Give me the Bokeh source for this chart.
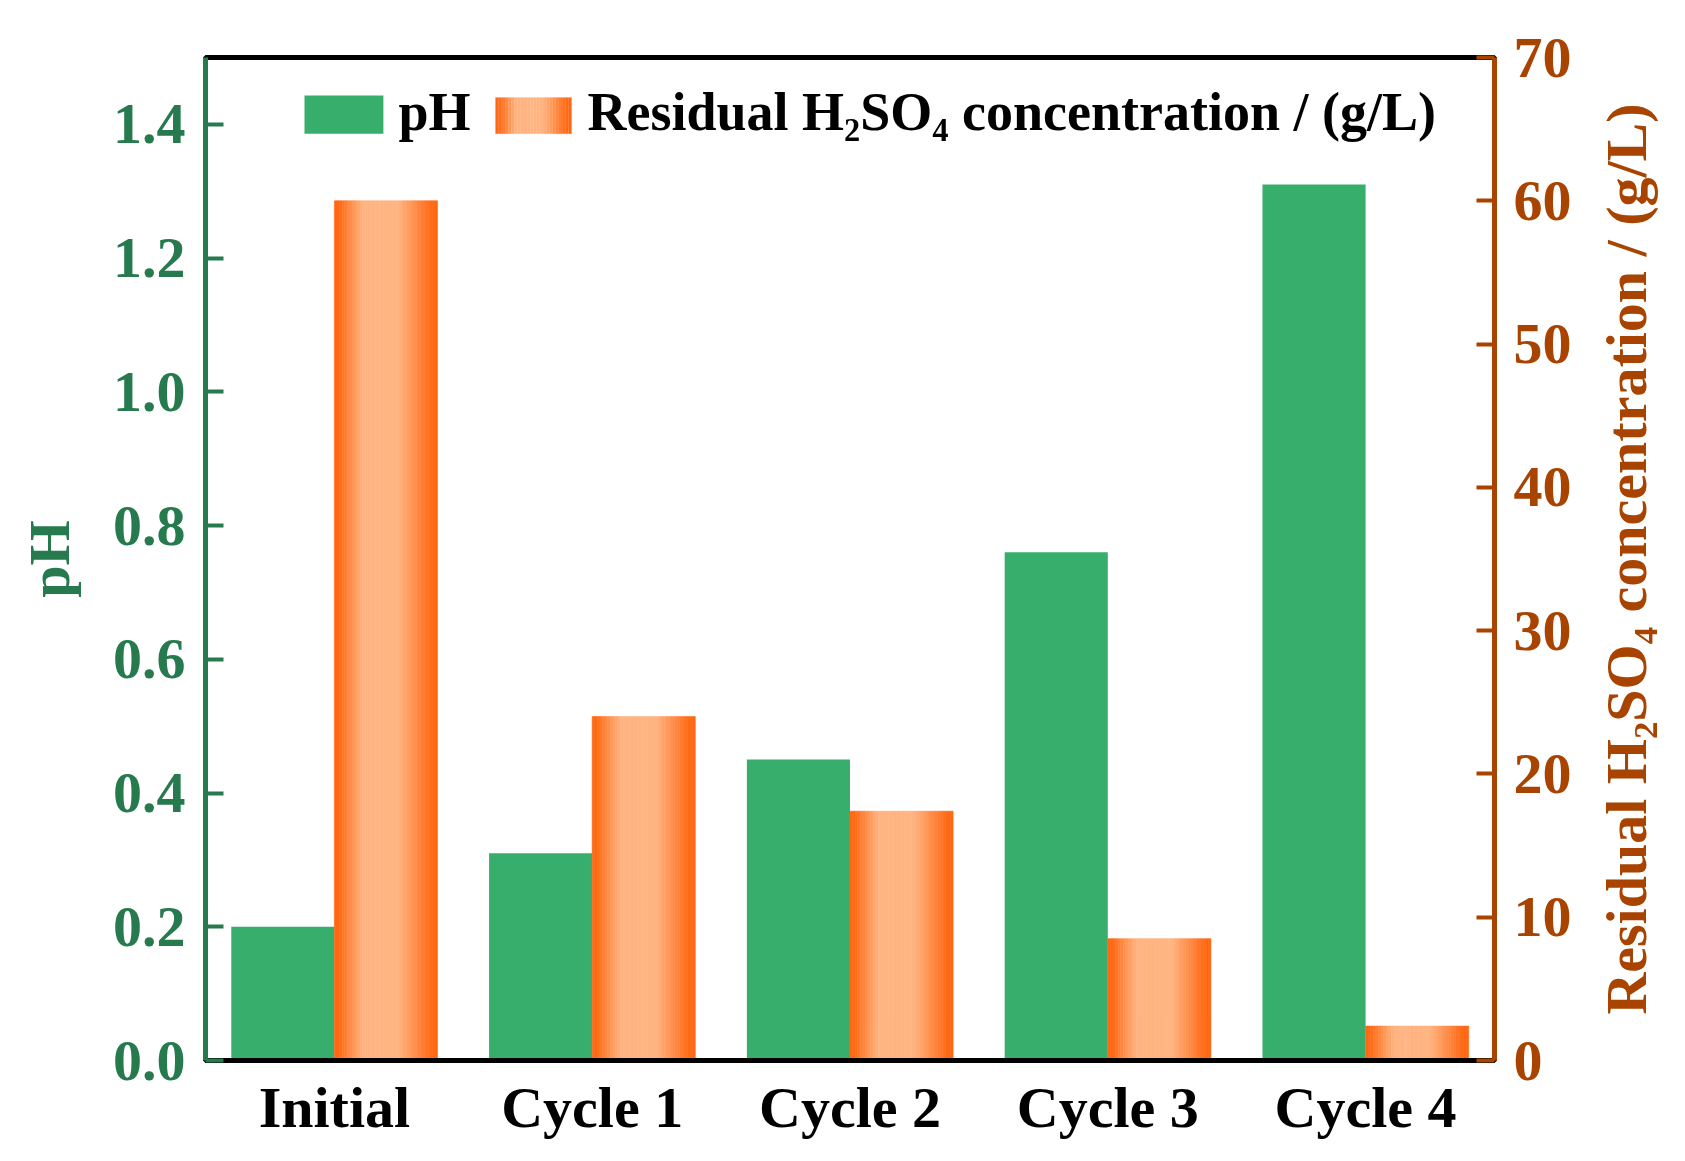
import numpy as np
from bokeh.plotting import figure
from bokeh.layouts import row
from bokeh.models import (Range1d, LinearAxis, FixedTicker, PrintfTickFormatter,
                          ColumnDataSource, Label, BoxAnnotation)
from bokeh.embed import file_html
from bokeh.resources import INLINE

# ---------------- data ----------------
categories = ["Initial", "Cycle 1", "Cycle 2", "Cycle 3", "Cycle 4"]
ph_values = [0.20, 0.31, 0.45, 0.76, 1.31]
acid_values = [60.0, 24.0, 17.4, 8.5, 2.4]
ph_ticks = [0.0, 0.2, 0.4, 0.6, 0.8, 1.0, 1.2, 1.4]
acid_ticks = [0, 10, 20, 30, 40, 50, 60, 70]
legend_labels = ["pH", "Residual H\u2082SO\u2084 concentration / (g/L)"]
acid_axis_label = "Residual H\u2082SO\u2084 concentration / (g/L)"

# ---------------- style ----------------
FONT = "Liberation Serif"
GREEN = "#38AE6C"
AXIS_GREEN = "#267A4E"
BROWN = "#A84400"
DARK_OR = np.array([255, 104, 18])
LIGHT_OR = np.array([255, 180, 130])
BAR_W = 0.4
N_STRIPS = 40
FS = "58px"
H = 1145
TOP, BOTTOM = 57, 85


def grad_color(t):
    # horizontal cylinder-like shading: dark edges, light centre
    pts = [0.0, 0.04, 0.28, 0.62, 0.95, 1.0]
    mix = [0.0, 0.0, 1.0, 1.0, 0.0, 0.0]
    m = float(np.interp(t, pts, mix))
    c = DARK_OR + (LIGHT_OR - DARK_OR) * m
    return "#%02x%02x%02x" % tuple(int(round(v)) for v in c)


acid_range = Range1d(0, 70)
p = figure(width=1590, height=H,
           x_range=Range1d(-0.5, 4.5), y_range=Range1d(0, 1.5),
           output_backend="svg", toolbar_location=None,
           min_border_left=205, min_border_right=96,
           min_border_top=TOP, min_border_bottom=BOTTOM)
p.extra_y_ranges = {"acid": acid_range}
p.grid.visible = False
p.outline_line_color = "black"
p.outline_line_width = 5
p.background_fill_color = "white"
p.border_fill_color = "white"

xs = np.arange(len(categories), dtype=float)

# green pH bars
p.vbar(x=xs - BAR_W / 2, top=ph_values, width=BAR_W,
       fill_color=GREEN, line_color=None)

# orange acid bars with horizontal gradient (built from thin strips)
lefts, rights, tops, colors = [], [], [], []
for xi, val in zip(xs, acid_values):
    for i in range(N_STRIPS):
        lefts.append(xi + i * BAR_W / N_STRIPS)
        rights.append(xi + (i + 1) * BAR_W / N_STRIPS)
        tops.append(val)
        colors.append(grad_color((i + 0.5) / N_STRIPS))
src = ColumnDataSource(dict(left=lefts, right=rights, top=tops,
                            bottom=[0] * len(tops), color=colors))
p.quad(left="left", right="right", top="top", bottom="bottom", source=src,
       fill_color="color", line_color="color", line_width=0.6,
       y_range_name="acid")

# ---------------- axes ----------------
# bottom
xa = p.xaxis[0]
xa.ticker = FixedTicker(ticks=list(xs))
xa.major_label_overrides = {i: c for i, c in enumerate(categories)}
xa.major_tick_line_color = None
xa.minor_tick_line_color = None
xa.axis_line_color = "black"
xa.axis_line_width = 5
xa.major_label_text_font = FONT
xa.major_label_text_font_style = "bold"
xa.major_label_text_font_size = FS
xa.major_label_text_color = "black"
xa.major_label_standoff = 8

# left pH axis
ya = p.yaxis[0]
ya.ticker = FixedTicker(ticks=ph_ticks)
ya.formatter = PrintfTickFormatter(format="%.1f")
ya.axis_line_color = AXIS_GREEN
ya.axis_line_width = 5
ya.major_tick_line_color = AXIS_GREEN
ya.major_tick_line_width = 4
ya.major_tick_in = 18
ya.major_tick_out = 0
ya.minor_tick_line_color = None
ya.major_label_text_font = FONT
ya.major_label_text_font_style = "bold"
ya.major_label_text_font_size = FS
ya.major_label_text_color = AXIS_GREEN
ya.major_label_standoff = 20
ya.axis_label = "pH"
ya.axis_label_text_font = FONT
ya.axis_label_text_font_style = "bold"
ya.axis_label_text_font_size = FS
ya.axis_label_text_color = AXIS_GREEN
ya.axis_label_standoff = 28

# right acid axis (ticks and numbers)
ra = LinearAxis(y_range_name="acid", ticker=FixedTicker(ticks=acid_ticks))
ra.axis_line_color = BROWN
ra.axis_line_width = 5
ra.major_tick_line_color = BROWN
ra.major_tick_line_width = 4
ra.major_tick_in = 18
ra.major_tick_out = 0
ra.minor_tick_line_color = None
ra.major_label_text_font = FONT
ra.major_label_text_font_style = "bold"
ra.major_label_text_font_size = FS
ra.major_label_text_color = BROWN
ra.major_label_standoff = 19
p.add_layout(ra, "right")

# ---------------- legend (drawn in plot data space) ----------------
leg_bot, leg_top = 1.386, 1.443
g_left, g_right = -0.116, 0.190
o_left, o_right = 0.625, 0.920
p.add_layout(BoxAnnotation(left=g_left, right=g_right, bottom=leg_bot, top=leg_top,
                           fill_color=GREEN, fill_alpha=1, line_color=None))
n_leg = 24
for i in range(n_leg):
    l = o_left + i * (o_right - o_left) / n_leg
    r = o_left + (i + 1) * (o_right - o_left) / n_leg
    c = grad_color((i + 0.5) / n_leg)
    p.add_layout(BoxAnnotation(left=l, right=r, bottom=leg_bot, top=leg_top - 0.003,
                               fill_color=c, fill_alpha=1, line_color=c,
                               line_width=0.6))
for txt, xpos in zip(legend_labels, [0.249, 0.982]):
    p.add_layout(Label(x=xpos, y=1.419, text=txt, text_font=FONT,
                       text_font_style="bold", text_font_size="54px",
                       text_color="black", text_baseline="alphabetic",
                       text_align="left"))

# ---------------- right-axis title (reads bottom-to-top) ----------------
# a slim companion panel sharing the acid range; only its axis title is shown
p2 = figure(width=79, height=H, x_range=Range1d(0, 1), y_range=acid_range,
            output_backend="svg", toolbar_location=None,
            min_border_left=64, min_border_right=0,
            min_border_top=TOP, min_border_bottom=BOTTOM)
p2.xaxis.visible = False
p2.grid.visible = False
p2.outline_line_color = None
p2.background_fill_color = "white"
p2.border_fill_color = "white"
a2 = p2.yaxis[0]
a2.ticker = FixedTicker(ticks=[])
a2.axis_line_color = None
a2.major_tick_line_color = None
a2.minor_tick_line_color = None
a2.major_tick_in = 0
a2.major_tick_out = 0
a2.major_label_standoff = 0
a2.axis_label = acid_axis_label
a2.axis_label_text_font = FONT
a2.axis_label_text_font_style = "bold"
a2.axis_label_text_font_size = FS
a2.axis_label_text_color = BROWN
a2.axis_label_standoff = 0

layout = row(p, p2)
open("out.html", "w").write(file_html(layout, INLINE))
